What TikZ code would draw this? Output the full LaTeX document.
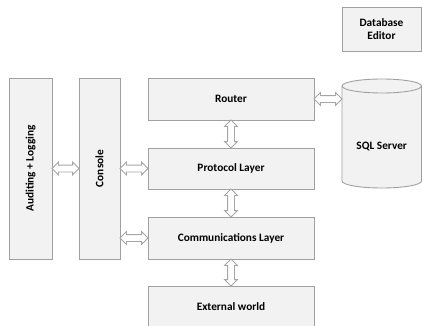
\documentclass[tikz,border=0pt]{standalone}
\usepackage{fontspec}
\setmainfont{Carlito}
\usetikzlibrary{shapes.arrows,calc}
\definecolor{boxfill}{HTML}{F2F2F2}
\definecolor{boxline}{HTML}{A0A0A0}
\definecolor{arrline}{HTML}{A6A6A6}
\tikzset{
  lbl/.style={font=\fontsize{11.3}{13.5}\selectfont\bfseries, align=center},
  blk/.style={draw=boxline, fill=boxfill, line width=0.9pt, inner sep=0pt, outer sep=0pt, lbl},
  darrow/.style={double arrow, draw=arrline, fill=white, line width=0.8pt,
                 inner xsep=0pt, inner ysep=3pt, outer sep=0pt,
                 double arrow head extend=3pt},
}
\newcommand\blockarrow[2]{\path let \p1=(#1), \p2=(#2),
  \n1={veclen(\x2-\x1,\y2-\y1)}, \n2={atan2(\y2-\y1,\x2-\x1)} in
  node[darrow, minimum height=\n1, rotate=\n2] at ($(\p1)!0.5!(\p2)$) {};}
\begin{document}
\begin{tikzpicture}[x=1pt,y=1pt]
\useasboundingbox (0,0) rectangle (422,325);
% boxes
\node[blk, minimum width=43, minimum height=181] (aud) at (30.5,156.5) {};
\node[rotate=90, lbl] (audt) at (aud.center) {Auditing + Logging};
\node[blk, minimum width=41, minimum height=181] (con) at (99.5,156.5) {};
\node[rotate=90, lbl] (cont) at (con.center) {Console};
\node[blk, minimum width=166, minimum height=42] (router) at (231,226) {Router};
\node[blk, minimum width=166, minimum height=41] (proto) at (231,156.5) {Protocol Layer};
\node[blk, minimum width=166, minimum height=42] (comm) at (231,87) {Communications Layer};
\node[blk, minimum width=166, minimum height=42] (ext) at (231,18) {External world};
\node[blk, minimum width=79, minimum height=44] (dbe) at (381.5,296) {Database\\Editor};
% SQL server cylinder
\node[minimum width=79.5, minimum height=109, inner sep=0pt, outer sep=0pt] (sql) at (381.75,191.5) {};
\draw[draw=boxline, fill=boxfill, line width=0.9pt]
  ([yshift=-7pt]sql.north west) -- ([yshift=7pt]sql.south west)
  arc[start angle=180, end angle=360, x radius=39.75pt, y radius=7pt]
  -- ([yshift=-7pt]sql.north east)
  arc[start angle=0, end angle=180, x radius=39.75pt, y radius=7pt] -- cycle;
\draw[draw=boxline, line width=0.9pt]
  ([yshift=-7pt]sql.north west)
  arc[start angle=180, end angle=360, x radius=39.75pt, y radius=7pt];
\node[lbl] (sqlt) at ([yshift=-13pt]sql.center) {SQL Server};
% arrows
\blockarrow{aud.east}{con.west}
\blockarrow{proto.west -| con.east}{proto.west}
\blockarrow{comm.west -| con.east}{comm.west}
\blockarrow{router.east}{sql.west |- router.east}
\blockarrow{router.south}{proto.north}
\blockarrow{proto.south}{comm.north}
\blockarrow{comm.south}{ext.north}
\end{tikzpicture}
\end{document}
